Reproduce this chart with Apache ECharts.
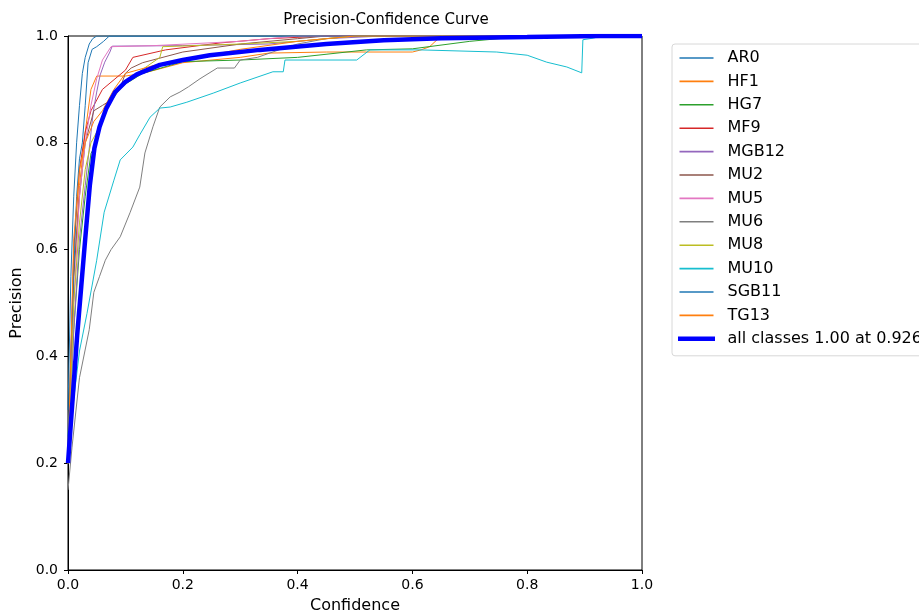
<!DOCTYPE html>
<html>
<head>
<meta charset="utf-8">
<script src="https://cdn.jsdelivr.net/npm/echarts@6/dist/echarts.min.js"></script>
<style>html,body{margin:0;padding:0;background:#fff}#c{width:919px;height:615px}</style>
</head>
<body>
<div id="c"></div>
<script>
const xTicks = [0, 0.2, 0.4, 0.6, 0.8, 1.0];
const yTicks = [0, 0.2, 0.4, 0.6, 0.8, 1.0];
const classNames = ['AR0','HF1','HG7','MF9','MGB12','MU2','MU5','MU6','MU8','MU10','SGB11','TG13'];
const classColors = ['#1f77b4','#ff7f0e','#2ca02c','#d62728','#9467bd','#8c564b','#e377c2','#7f7f7f','#bcbd22','#17becf','#1f77b4','#ff7f0e'];

const AR0 = [[0,0.3],[0.005,0.55],[0.01,0.7],[0.015,0.8],[0.02,0.87],[0.025,0.93],[0.03,0.96],[0.037,0.985],[0.043,0.995],[0.05,1],[1,1]];
const HF1 = [[0,0.2],[0.01,0.55],[0.02,0.72],[0.03,0.82],[0.04,0.9],[0.05,0.925],[0.1,0.925],[0.13,0.93],[0.2,0.95],[0.3,0.96],[0.35,0.968],[0.45,0.97],[0.6,0.97],[0.615,0.974],[0.63,0.98],[0.65,1],[1,1]];
const HG7 = [[0,0.2],[0.01,0.45],[0.02,0.6],[0.03,0.7],[0.04,0.78],[0.05,0.8],[0.055,0.83],[0.07,0.87],[0.085,0.895],[0.1,0.91],[0.13,0.93],[0.2,0.952],[0.3,0.955],[0.4,0.96],[0.52,0.974],[0.6,0.976],[0.7,0.99],[0.8,1],[1,1]];
const MF9 = [[0,0.2],[0.01,0.6],[0.02,0.75],[0.03,0.82],[0.04,0.86],[0.06,0.9],[0.1,0.936],[0.113,0.96],[0.17,0.974],[0.265,0.987],[0.35,0.995],[0.45,1],[1,1]];
const MGB12 = [[0,0.2],[0.01,0.45],[0.02,0.62],[0.03,0.72],[0.044,0.858],[0.05,0.895],[0.056,0.927],[0.064,0.951],[0.073,0.97],[0.077,0.981],[0.2,0.982],[0.35,0.985],[0.45,0.995],[0.55,1],[1,1]];
const MU2 = [[0,0.2],[0.01,0.55],[0.02,0.7],[0.03,0.8],[0.045,0.86],[0.06,0.87],[0.075,0.88],[0.09,0.9],[0.1,0.93],[0.11,0.94],[0.13,0.95],[0.2,0.97],[0.3,0.985],[0.4,0.995],[0.45,1],[1,1]];
const MU5 = [[0,0.2],[0.01,0.5],[0.02,0.7],[0.03,0.8],[0.04,0.87],[0.05,0.92],[0.06,0.955],[0.075,0.98],[0.15,0.982],[0.3,0.99],[0.4,1],[1,1]];
const MU6 = [[0,0.15],[0.007,0.23],[0.02,0.36],[0.037,0.45],[0.045,0.52],[0.055,0.55],[0.065,0.58],[0.075,0.6],[0.091,0.624],[0.108,0.669],[0.125,0.717],[0.134,0.781],[0.148,0.83],[0.16,0.867],[0.178,0.886],[0.195,0.895],[0.21,0.905],[0.23,0.92],[0.26,0.94],[0.29,0.94],[0.3,0.955],[0.33,0.96],[0.37,0.975],[0.4,0.985],[0.45,0.995],[0.5,1],[1,1]];
const MU8 = [[0,0.2],[0.01,0.5],[0.02,0.65],[0.03,0.75],[0.04,0.8],[0.05,0.82],[0.07,0.87],[0.09,0.9],[0.12,0.93],[0.16,0.96],[0.165,0.98],[0.3,0.985],[0.4,0.99],[0.5,1],[1,1]];
const MU10 = [[0,0.2],[0.01,0.32],[0.02,0.41],[0.033,0.48],[0.05,0.58],[0.063,0.67],[0.08,0.73],[0.091,0.768],[0.113,0.792],[0.125,0.815],[0.143,0.848],[0.16,0.865],[0.178,0.867],[0.207,0.876],[0.253,0.893],[0.3,0.912],[0.357,0.933],[0.375,0.933],[0.378,0.955],[0.503,0.955],[0.526,0.974],[0.613,0.974],[0.747,0.97],[0.8,0.964],[0.834,0.951],[0.869,0.942],[0.895,0.931],[0.897,0.993],[0.915,0.996],[0.93,1],[1,1]];
const SGB11 = [[0,0.25],[0.008,0.5],[0.015,0.7],[0.02,0.77],[0.025,0.8],[0.03,0.87],[0.035,0.95],[0.042,0.975],[0.05,0.98],[0.062,0.99],[0.072,1],[1,1]];
const TG13 = [[0,0.2],[0.01,0.62],[0.02,0.75],[0.03,0.8],[0.045,0.84],[0.06,0.86],[0.08,0.9],[0.1,0.93],[0.15,0.945],[0.2,0.955],[0.3,0.975],[0.4,0.99],[0.5,1],[1,1]];
const ALL = [[0,0.2],[0.008,0.32],[0.016,0.44],[0.023,0.53],[0.03,0.62],[0.038,0.72],[0.046,0.79],[0.055,0.83],[0.067,0.865],[0.082,0.895],[0.1,0.914],[0.12,0.928],[0.16,0.946],[0.2,0.955],[0.247,0.964],[0.334,0.974],[0.45,0.985],[0.55,0.992],[0.65,0.996],[0.8,0.998],[0.926,1],[1,1]];
const allName = 'all classes 1.00 at 0.926';

const classData = [AR0, HF1, HG7, MF9, MGB12, MU2, MU5, MU6, MU8, MU10, SGB11, TG13];
const FONT = 'DejaVu Sans';

const series = classNames.map((n, i) => ({
  name: n, type: 'line', data: classData[i], symbol: 'none', animation: false,
  lineStyle: { width: 1, color: classColors[i] }, itemStyle: { color: classColors[i] }
}));
series.push({
  name: allName, type: 'line', data: ALL, symbol: 'none', animation: false, z: 5,
  lineStyle: { width: 4.5, color: '#0000ff' }, itemStyle: { color: '#0000ff' }
});

const legendData = classNames.map(n => ({ name: n }));
legendData.push({ name: allName, itemStyle: { borderColor: '#0000ff', borderWidth: 3 } });

const chart = echarts.init(document.getElementById('c'), null, { renderer: 'canvas' });
chart.setOption({
  backgroundColor: '#fff',
  animation: false,
  title: {
    text: 'Precision-Confidence Curve', left: 381, top: 8, textAlign: 'center',
    textStyle: { fontFamily: FONT, fontSize: 15, fontWeight: 'normal', color: '#000' }
  },
  legend: {
    orient: 'vertical', left: 672, top: 44, data: legendData,
    icon: 'rect', itemWidth: 34, itemHeight: 1.6, itemGap: 5.4,
    padding: [5, 10, 8, 6],
    borderColor: '#d8d8d8', borderWidth: 1, borderRadius: 3,
    textStyle: { fontFamily: FONT, fontSize: 16, lineHeight: 18, color: '#000', padding: [0, 0, 0, 9] }
  },
  grid: { left: 68, right: 277, top: 36, bottom: 45, outerBoundsMode: 'none', containLabel: false, show: true, borderColor: '#000', borderWidth: 1, backgroundColor: 'transparent' },
  xAxis: {
    type: 'value', min: 0, max: 1, interval: 0.2,
    name: 'Confidence', nameLocation: 'middle', nameGap: 28,
    nameTextStyle: { fontFamily: FONT, fontSize: 16, color: '#000' },
    axisLine: { show: true, lineStyle: { color: '#000', width: 1 } },
    axisTick: { show: true, length: 4, inside: false, lineStyle: { color: '#000' } },
    axisLabel: { fontFamily: FONT, fontSize: 14, color: '#000', margin: 8, formatter: v => v.toFixed(1) },
    splitLine: { show: false }
  },
  yAxis: {
    type: 'value', min: 0, max: 1, interval: 0.2,
    name: 'Precision', nameLocation: 'middle', nameGap: 42, nameRotate: 90,
    nameTextStyle: { fontFamily: FONT, fontSize: 16, color: '#000' },
    axisLine: { show: true, lineStyle: { color: '#000', width: 1 } },
    axisTick: { show: true, length: 4, inside: false, lineStyle: { color: '#000' } },
    axisLabel: { fontFamily: FONT, fontSize: 14, color: '#000', margin: 10, formatter: v => v.toFixed(1) },
    splitLine: { show: false }
  },
  series: series
});
</script>
</body>
</html>
